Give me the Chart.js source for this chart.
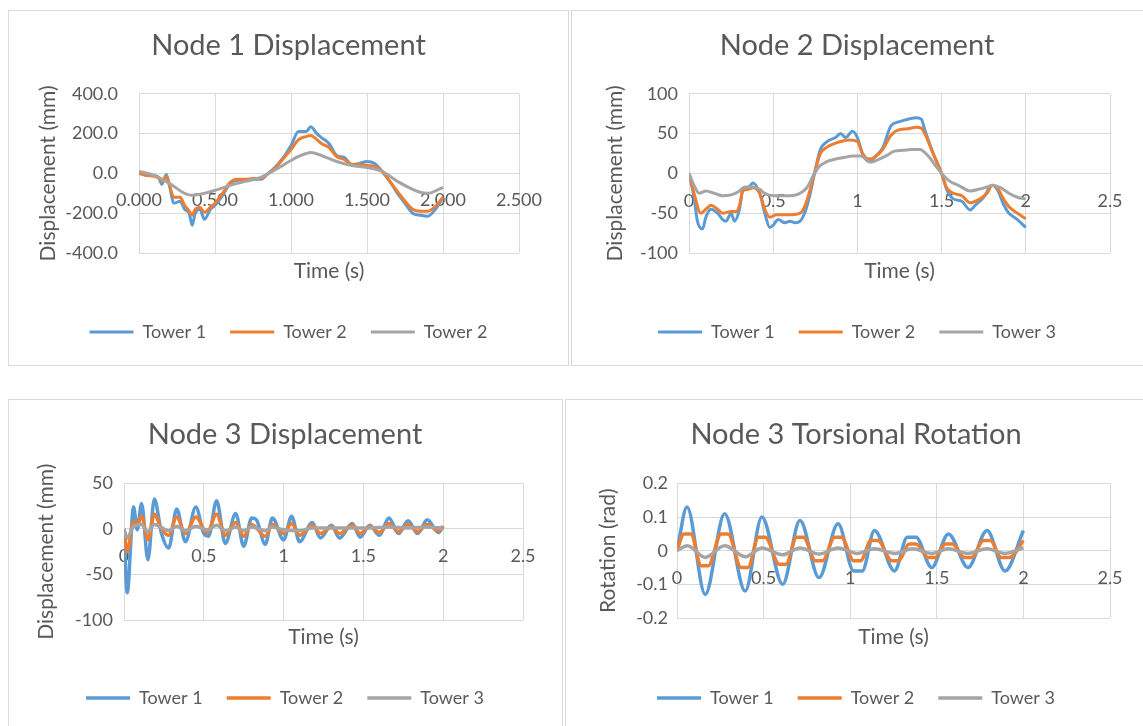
<!DOCTYPE html>
<html><head><meta charset="utf-8">
<script src="https://cdn.jsdelivr.net/npm/chart.js@4.4.1/dist/chart.umd.min.js"></script>
<style>
html,body{margin:0;padding:0;background:#fff;overflow:hidden;width:1143px;height:726px;}
.panel{position:absolute;border:1px solid #D9D9D9;box-sizing:border-box;}
.wrap{position:absolute;}
canvas{display:block;}
</style></head><body>
<div class="panel" style="left:8px;top:10px;width:561px;height:356px"></div>
<div class="panel" style="left:571px;top:10px;width:600px;height:356px"></div>
<div class="panel" style="left:8px;top:399px;width:555px;height:400px"></div>
<div class="panel" style="left:565px;top:399px;width:600px;height:400px"></div>
<div class="wrap" style="left:8px;top:10px"><canvas id="c1" width="561" height="355"></canvas></div>
<div class="wrap" style="left:571px;top:10px"><canvas id="c2" width="572" height="355"></canvas></div>
<div class="wrap" style="left:8px;top:399px"><canvas id="c3" width="554" height="340"></canvas></div>
<div class="wrap" style="left:565px;top:399px"><canvas id="c4" width="582" height="340"></canvas></div>
<script>
// ---------- data ----------
const seriesNames = ['Tower 1', 'Tower 2', 'Tower 3'];
const node1Names = ['Tower 1', 'Tower 2', 'Tower 2'];

const n1XTicks = ['0.000','0.500','1.000','1.500','2.000','2.500'];
const n1YTicks = ['-400.0','-200.0','0.0','200.0','400.0'];
const xTicks = ['0','0.5','1','1.5','2','2.5'];
const n2YTicks = ['-100','-50','0','50','100'];
const n3YTicks = ['-100','-50','0','50'];
const n4YTicks = ['-0.2','-0.1','0','0.1','0.2'];

// Node 1 displacement (mm)
const n1Time = [0,0.05,0.1,0.13,0.15,0.18,0.2,0.23,0.27,0.3,0.33,0.35,0.37,0.4,0.43,0.47,0.5,0.55,0.6,0.65,0.7,0.75,0.8,0.85,0.9,0.95,1.0,1.05,1.1,1.13,1.17,1.2,1.25,1.3,1.35,1.4,1.45,1.5,1.55,1.6,1.65,1.7,1.75,1.8,1.85,1.9,1.95,2.0];
const n1Tower1 = [5,-10,-10,-20,-55,-5,-60,-150,-140,-180,-200,-260,-200,-180,-230,-180,-160,-110,-50,-35,-35,-30,-30,0,35,80,140,210,210,235,200,180,150,90,80,45,50,60,50,10,-40,-100,-150,-200,-210,-215,-180,-120];
const n1Tower2 = [0,-10,-15,-25,-40,-15,-60,-120,-120,-160,-190,-210,-180,-170,-195,-170,-150,-100,-45,-30,-30,-25,-25,0,30,75,120,170,185,190,170,150,130,85,70,45,45,40,35,10,-40,-90,-140,-180,-190,-190,-165,-120];
const n1Time3 = [0,0.1,0.2,0.3,0.35,0.4,0.5,0.6,0.7,0.8,0.9,1.0,1.05,1.1,1.13,1.2,1.3,1.4,1.5,1.6,1.7,1.8,1.85,1.9,2.0];
const n1Tower3 = [10,-10,-50,-100,-110,-105,-85,-60,-40,-20,20,65,85,100,105,90,60,40,30,10,-40,-80,-95,-100,-70];

// Node 2 displacement (mm)
const n2Time1 = [0,0.03,0.05,0.08,0.1,0.13,0.17,0.2,0.22,0.25,0.27,0.3,0.32,0.35,0.38,0.42,0.45,0.48,0.5,0.53,0.57,0.6,0.63,0.66,0.69,0.72,0.745,0.78,0.82,0.87,0.9,0.93,0.97,1.0,1.03,1.07,1.1,1.15,1.2,1.25,1.3,1.35,1.38,1.4,1.45,1.5,1.53,1.57,1.62,1.67,1.7,1.75,1.8,1.83,1.87,1.9,1.95,2.0];
const n2Tower1 = [0,-30,-60,-70,-55,-45,-50,-58,-60,-50,-60,-45,-20,-18,-12,-25,-50,-68,-65,-58,-62,-60,-62,-60,-48,-25,0,30,40,45,50,45,53,45,25,15,20,32,60,65,68,70,68,55,25,0,-20,-32,-35,-46,-40,-30,-15,-20,-40,-50,-58,-68];
const n2Time2 = [0,0.03,0.07,0.1,0.13,0.17,0.2,0.25,0.28,0.3,0.32,0.35,0.38,0.42,0.45,0.48,0.52,0.6,0.66,0.69,0.72,0.745,0.78,0.82,0.87,0.9,0.95,1.0,1.03,1.07,1.1,1.15,1.2,1.25,1.3,1.35,1.38,1.4,1.45,1.5,1.53,1.57,1.62,1.67,1.72,1.77,1.8,1.83,1.87,1.9,1.95,2.0];
const n2Tower2 = [0,-25,-50,-45,-40,-45,-50,-48,-48,-40,-22,-20,-18,-25,-45,-55,-52,-52,-50,-40,-20,0,25,33,38,40,42,40,25,18,20,30,48,55,56,58,57,50,25,0,-18,-25,-28,-37,-33,-25,-15,-18,-33,-42,-50,-57];
const n2Time3 = [0,0.03,0.06,0.1,0.15,0.2,0.25,0.3,0.33,0.38,0.42,0.45,0.5,0.6,0.65,0.7,0.745,0.78,0.82,0.87,0.92,0.97,1.02,1.08,1.12,1.17,1.22,1.27,1.32,1.37,1.42,1.47,1.5,1.55,1.6,1.67,1.72,1.77,1.8,1.85,1.9,1.95,2.0];
const n2Tower3 = [0,-15,-25,-22,-25,-28,-27,-22,-17,-17,-20,-25,-28,-28,-26,-18,0,10,15,18,20,22,22,14,17,22,28,29,30,30,22,8,0,-10,-15,-22,-20,-17,-15,-18,-25,-30,-32];

// Node 3 displacement (mm)
const n3Time1 = [0,0.02,0.06,0.083,0.11,0.15,0.19,0.235,0.28,0.33,0.385,0.45,0.5,0.53,0.58,0.635,0.7,0.75,0.8,0.83,0.885,0.93,1.0,1.05,1.1,1.18,1.23,1.3,1.35,1.43,1.48,1.54,1.6,1.66,1.72,1.78,1.84,1.9,1.97,2.0];
const n3Tower1 = [0,-70,24,-1,28,-34,33,-5,-21,22,-14,24,-5,-8,31,-16,17,-19,12,10,-17,12,-12,14,-14,7,-10,4,-10,6,-9,4,-7,12,-5,9,-5,10,-4,3];
const n3Time2 = [0,0.02,0.06,0.083,0.11,0.15,0.19,0.235,0.28,0.33,0.385,0.45,0.52,0.58,0.635,0.7,0.75,0.8,0.885,0.93,1.0,1.05,1.1,1.18,1.23,1.3,1.35,1.43,1.48,1.54,1.6,1.66,1.72,1.78,1.84,1.9,1.97,2.0];
const n3Tower2 = [0,-25,8,5,14,-12,16,0,-7,13,-5,13,-4,16,-7,7,-8,5,-8,5,-5,6,-7,4,-5,2,-5,4,-5,3,-4,6,-3,5,-3,5,-2,3];
const n3Time3 = [0,0.02,0.06,0.11,0.15,0.19,0.28,0.33,0.385,0.45,0.52,0.58,0.635,0.7,0.75,0.8,0.885,0.93,1.0,1.1,1.18,1.3,1.43,1.54,1.66,1.78,1.9,2.0];
const n3Tower3 = [0,-10,3,5,-3,5,-2,3,-2,3,-1,4,-2,2,-2,2,-2,2,-1,-2,1,1,1,1,2,1,2,1];

// Node 3 torsional rotation (rad)
const n4Time1 = [0,0.058,0.163,0.275,0.394,0.49,0.61,0.71,0.82,0.93,1.02,1.07,1.14,1.256,1.33,1.38,1.47,1.567,1.68,1.79,1.894,2.0];
const n4Tower1 = [0,0.13,-0.13,0.11,-0.12,0.10,-0.10,0.09,-0.08,0.08,-0.06,-0.06,0.06,-0.06,0.04,0.04,-0.05,0.05,-0.05,0.06,-0.06,0.06];
const n4Time2 = [0,0.04,0.08,0.14,0.18,0.255,0.295,0.37,0.41,0.47,0.51,0.59,0.63,0.69,0.73,0.8,0.84,0.91,0.95,1.02,1.06,1.12,1.16,1.24,1.28,1.34,1.38,1.45,1.49,1.55,1.59,1.66,1.7,1.77,1.81,1.87,1.92,2.0];
const n4Tower2 = [0,0.05,0.05,-0.045,-0.045,0.05,0.05,-0.05,-0.05,0.04,0.04,-0.04,-0.04,0.04,0.04,-0.03,-0.03,0.04,0.04,-0.03,-0.03,0.03,0.03,-0.03,-0.03,0.02,0.02,-0.02,-0.02,0.02,0.02,-0.02,-0.02,0.03,0.03,-0.02,-0.02,0.03];
const n4Time3 = [0,0.06,0.163,0.275,0.394,0.49,0.61,0.71,0.82,0.93,1.04,1.14,1.26,1.36,1.47,1.567,1.68,1.79,1.894,2.0];
const n4Tower3 = [0,0.015,-0.02,0.015,-0.018,0.008,-0.012,0.008,-0.01,0.008,-0.008,0.006,-0.008,0.006,-0.008,0.006,-0.008,0.006,-0.008,0.008];

// ---------- style ----------
const FONT = 'Lato, "Open Sans", sans-serif';
const TXT = '#595959';
const GRID = '#D9D9D9';
const COLORS = ['#5B9BD5', '#ED7D31', '#A5A5A5'];

function pts(t, v) { return t.map((x, i) => ({ x: x, y: v[i] })); }

function build(id, o) {
  new Chart(document.getElementById(id), {
    type: 'line',
    data: {
      datasets: o.series.map((s, i) => ({
        label: o.names[i],
        data: pts(s[0], s[1]),
        borderColor: COLORS[i],
        backgroundColor: COLORS[i],
        borderWidth: o.lw,
        pointRadius: 0,
        pointHoverRadius: 0,
        fill: false,
        cubicInterpolationMode: 'monotone',
        order: 3 - i
      }))
    },
    options: {
      responsive: false,
      animation: false,
      events: [],
      layout: { padding: { left: 0, right: 0, top: 0, bottom: o.padB } },
      plugins: {
        title: {
          display: true, text: o.title, color: TXT,
          font: { family: FONT, size: 29, weight: 'normal' },
          padding: { top: o.tT, bottom: o.tB }
        },
        legend: {
          position: 'bottom',
          labels: {
            color: TXT, font: { family: FONT, size: 18 },
            usePointStyle: true, pointStyle: 'line', pointStyleWidth: 44,
            padding: 24,
            sort: (a, b) => a.datasetIndex - b.datasetIndex
          }
        },
        tooltip: { enabled: false }
      },
      scales: {
        x: {
          type: 'linear', axis: 'x', position: { y: 0 }, min: 0, max: 2.5,
          ticks: {
            stepSize: 0.5, color: TXT, font: { family: FONT, size: 18 },
            padding: o.xPad, maxRotation: 0, autoSkip: false,
            callback: (v, i) => o.xLabels[i]
          },
          grid: { color: GRID, drawTicks: false, lineWidth: 1 },
          border: { display: false }
        },
        xt: {
          type: 'linear', axis: 'x', position: 'bottom', display: true,
          ticks: { display: false }, grid: { display: false, drawTicks: false },
          border: { display: false },
          title: {
            display: true, text: 'Time (s)', color: TXT,
            font: { family: FONT, size: 21 }, padding: { top: 0, bottom: o.xtPadB }
          },
          afterFit: s => { s.height = o.xtH; }
        },
        y: {
          type: 'linear', axis: 'y', position: 'left', min: o.yMin, max: o.yMax,
          ticks: {
            stepSize: o.yStep, color: TXT, font: { family: FONT, size: 18 },
            padding: o.yPad, callback: (v, i) => o.yLabels[i]
          },
          grid: { color: GRID, drawTicks: false, lineWidth: 1 },
          border: { display: false },
          title: {
            display: true, text: o.yTitle, color: TXT,
            font: { family: FONT, size: 21 }, padding: { top: o.yTitlePad, bottom: 0 }
          },
          afterFit: s => { s.width = o.caLeft; }
        },
        yr: {
          type: 'linear', axis: 'y', position: 'right', display: true,
          ticks: { display: false }, grid: { display: false, drawTicks: false },
          border: { display: false },
          afterFit: s => { s.width = o.padR; }
        }
      }
    }
  });
}

build('c1', {
  title: 'Node 1 Displacement', names: node1Names, lw: 3,
  series: [[n1Time, n1Tower1], [n1Time, n1Tower2], [n1Time3, n1Tower3]],
  xLabels: n1XTicks, yLabels: n1YTicks, yMin: -400, yMax: 400, yStep: 200,
  yTitle: 'Displacement (mm)',
  caLeft: 131, padR: 50, tT: 18, tB: 31, padB: 14, xtH: 46, xtPadB: 15,
  yTitlePad: 28, yPad: 21, xPad: 16
});
build('c2', {
  title: 'Node 2 Displacement', names: seriesNames, lw: 3,
  series: [[n2Time1, n2Tower1], [n2Time2, n2Tower2], [n2Time3, n2Tower3]],
  xLabels: xTicks, yLabels: n2YTicks, yMin: -100, yMax: 100, yStep: 50,
  yTitle: 'Displacement (mm)',
  caLeft: 118, padR: 33, tT: 18, tB: 31, padB: 14, xtH: 46, xtPadB: 15,
  yTitlePad: 32, yPad: 11, xPad: 17
});
build('c3', {
  title: 'Node 3 Displacement', names: seriesNames, lw: 3.5,
  series: [[n3Time1, n3Tower1], [n3Time2, n3Tower2], [n3Time3, n3Tower3]],
  xLabels: xTicks, yLabels: n3YTicks, yMin: -100, yMax: 50, yStep: 50,
  yTitle: 'Displacement (mm)',
  caLeft: 116, padR: 39, tT: 18.6, tB: 31, padB: 22, xtH: 45, xtPadB: 15,
  yTitlePad: 26, yPad: 11, xPad: 16
});
build('c4', {
  title: 'Node 3 Torsional Rotation', names: seriesNames, lw: 3.5,
  series: [[n4Time1, n4Tower1], [n4Time2, n4Tower2], [n4Time3, n4Tower3]],
  xLabels: xTicks, yLabels: n4YTicks, yMin: -0.2, yMax: 0.2, yStep: 0.1,
  yTitle: 'Rotation (rad)',
  caLeft: 112, padR: 37, tT: 18.6, tB: 31, padB: 22, xtH: 47, xtPadB: 15,
  yTitlePad: 31, yPad: 9, xPad: 17
});
</script>
</body></html>
